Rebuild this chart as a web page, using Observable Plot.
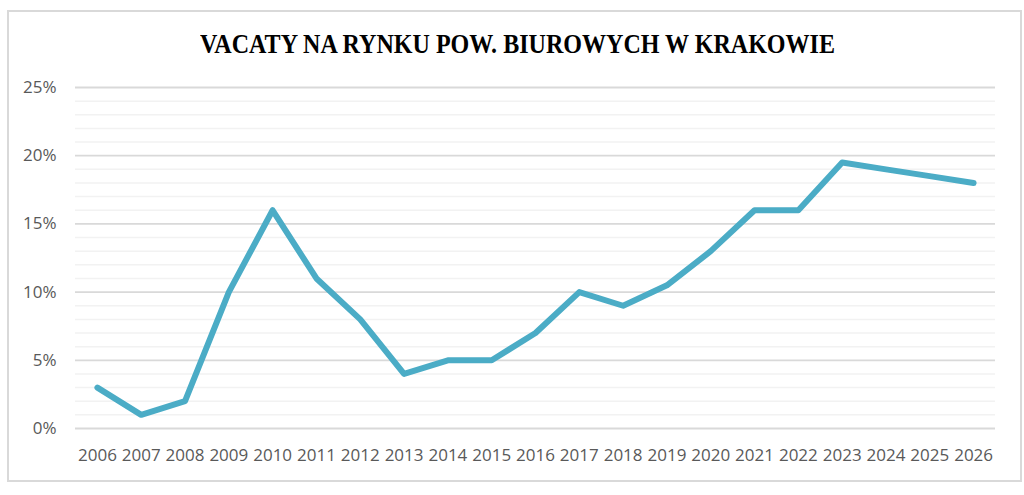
<!DOCTYPE html>
<html>
<head>
<meta charset="utf-8">
<script src="https://cdn.jsdelivr.net/npm/d3@7"></script>
<script src="https://cdn.jsdelivr.net/npm/@observablehq/plot@0.6"></script>
<style>
  html, body { margin: 0; padding: 0; background: #fff; }
  #wrap { position: relative; width: 1024px; height: 495px; overflow: hidden; }
  #frame { position: absolute; left: 7px; top: 10px; width: 1011px; height: 468px; border: 2px solid #d9d9d9; box-sizing: content-box; }
  #title { position: absolute; left: 200px; top: 31px; font-family: "Liberation Serif", serif; font-weight: bold; font-size: 27px; line-height: 1; color: #000; white-space: nowrap; transform-origin: 0 0; }
  #chart { position: absolute; left: 0; top: 70px; }
</style>
</head>
<body>
<div id="wrap">
  <div id="frame"></div>
  <div id="title">VACATY NA RYNKU POW. BIUROWYCH W KRAKOWIE</div>
  <div id="chart"></div>
</div>
<script>
const years = [2006, 2007, 2008, 2009, 2010, 2011, 2012, 2013, 2014, 2015, 2016, 2017, 2018, 2019, 2020, 2021, 2022, 2023, 2024, 2025, 2026];
const vacancy = [3, 1, 2, 10, 16, 11, 8, 4, 5, 5, 7, 10, 9, 10.5, 13, 16, 16, 19.5, 19, 18.5, 18];
const yTicks = [0, 5, 10, 15, 20, 25];
const minorTicks = d3.range(0, 26).filter(d => d % 5 !== 0);

const data = years.map((year, i) => ({year, value: vacancy[i]}));

// scale title to target width
const t = document.getElementById("title");
const w = t.getBoundingClientRect().width;
t.style.transform = `scaleX(${635 / w})`;

const chart = Plot.plot({
  width: 1024,
  height: 425,
  marginLeft: 75,
  marginRight: 29,
  marginTop: 17,
  marginBottom: 67,
  style: {fontFamily: "'Open Sans', sans-serif", fontSize: "17px", color: "#595959", background: "transparent"},
  x: {type: "linear", domain: [2005.5, 2026.5], ticks: years, tickFormat: d => String(d), tickSize: 0, tickPadding: 20, label: null},
  y: {domain: [0, 25], ticks: yTicks, tickFormat: d => d + "%", tickSize: 0, tickPadding: 19, label: null},
  marks: [
    Plot.ruleY(minorTicks, {stroke: "#f2f2f2", strokeWidth: 1.5}),
    Plot.ruleY(yTicks, {stroke: "#d9d9d9", strokeWidth: 1.8}),
    Plot.line(data, {x: "year", y: "value", stroke: "#4bacc6", strokeWidth: 6, strokeLinejoin: "round", strokeLinecap: "round"})
  ]
});
document.getElementById("chart").appendChild(chart);
</script>
</body>
</html>
